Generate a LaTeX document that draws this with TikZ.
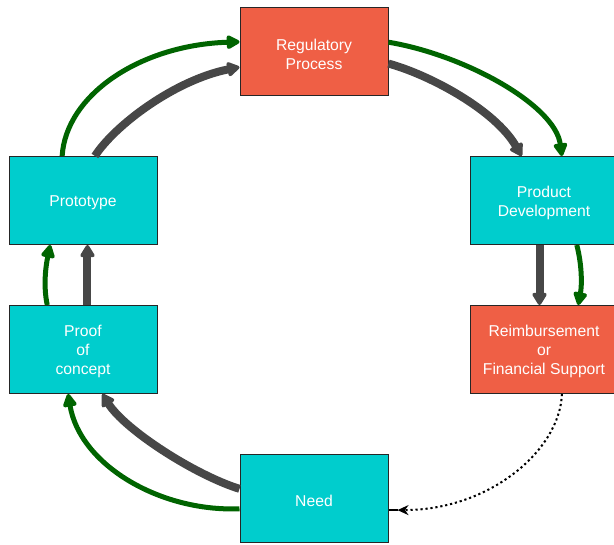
\documentclass[tikz,border=0pt]{standalone}
\usepackage{fontspec}
\setmainfont{Liberation Sans}
\usetikzlibrary{arrows.meta,calc}
\definecolor{boxred}{HTML}{EF5F45}
\definecolor{boxcyan}{HTML}{00CDCD}
\definecolor{flowgreen}{HTML}{006400}
\definecolor{flowgray}{HTML}{474747}
\begin{document}
\begin{tikzpicture}[x=1pt,y=-1pt,
  stagetext/.style={text=white, align=center, font=\fontsize{15.7}{19}\selectfont,
    inner sep=0pt, yshift=-2pt},
  stage/.style={draw=black!85, line width=1pt, minimum width=148pt, minimum height=88pt,
    inner sep=0pt, label={[stagetext]center:#1}},
  cyanbox/.style={stage={#1}, fill=boxcyan},
  redbox/.style={stage={#1}, fill=boxred},
  greenflow/.style={draw=flowgreen, line width=5pt, -{Triangle[round,length=15pt,width=15pt]}},
  grayflow/.style={draw=flowgray, line width=8pt, -{Triangle[round,length=14pt,width=16pt]}},
  feedback/.style={draw=black, line width=2pt, dash pattern=on 2.2pt off 2.8pt,
    -{Stealth[length=11pt,width=10pt]}}
]
\useasboundingbox (0,0) rectangle (614,545);

% stages of the cycle
\node[redbox={Regulatory\\Process}]                 (reg)   at (314,52)    {};
\node[cyanbox={Prototype}]                          (proto) at (83,200.5)  {};
\node[cyanbox={Product\\Development}]               (pd)    at (544,200.5) {};
\node[cyanbox={Proof\\of\\concept}]                 (proof) at (83,349.5)  {};
\node[redbox={Reimbursement\\or\\Financial Support}] (reim)  at (544,349.5) {};
\node[cyanbox={Need}]                               (need)  at (314,499)   {};

% Prototype -> Regulatory Process
\draw[greenflow] ($(proto.north west)!0.36!(proto.north east)$)
  .. controls (66,95) and (140,45) .. ($(reg.north west)!0.386!(reg.south west)$);
\draw[grayflow] ($(proto.north west)!0.58!(proto.north east)$)
  .. controls (115,125) and (175,80) .. ($(reg.north west)!0.67!(reg.south west)$);

% Regulatory Process -> Product Development
\draw[greenflow] ($(reg.north east)!0.39!(reg.south east)$)
  .. controls (465,55) and (555,105) .. ($(pd.north west)!0.62!(pd.north east)$);
\draw[grayflow] ($(reg.north east)!0.63!(reg.south east)$)
  .. controls (430,75) and (495,110) .. ($(pd.north west)!0.35!(pd.north east)$);

% Product Development -> Reimbursement
\draw[grayflow] ($(pd.south west)!0.47!(pd.south east)$)
  -- ($(reim.north west)!0.47!(reim.north east)$);
\draw[greenflow] ($(pd.south west)!0.72!(pd.south east)$)
  .. controls (582,265) and (582,285) .. ($(reim.north west)!0.73!(reim.north east)$);

% Proof of concept -> Prototype
\draw[greenflow] ($(proof.north west)!0.26!(proof.north east)$)
  .. controls (43,285) and (46,265) .. ($(proto.south west)!0.28!(proto.south east)$);
\draw[grayflow] ($(proof.north west)!0.53!(proof.north east)$)
  -- ($(proto.south west)!0.53!(proto.south east)$);

% Need -> Proof of concept
\draw[grayflow] ($(need.north west)!0.386!(need.south west)$)
  .. controls (195,475) and (125,430) .. ($(proof.south west)!0.63!(proof.south east)$);
\draw[greenflow] ($(need.north west)!0.61!(need.south west)$)
  .. controls (160,512) and (80,465) .. ($(proof.south west)!0.40!(proof.south east)$);

% Reimbursement feeds back into Need
\draw[feedback, shorten >=9pt] ($(reim.south west)!0.62!(reim.south east)$)
  .. controls (560,450) and (490,510) .. ($(need.north east)!0.625!(need.south east)$);
\draw[black, line width=1.5pt] ($(need.north east)!0.625!(need.south east)$) -- ++(9,0);
\end{tikzpicture}
\end{document}
